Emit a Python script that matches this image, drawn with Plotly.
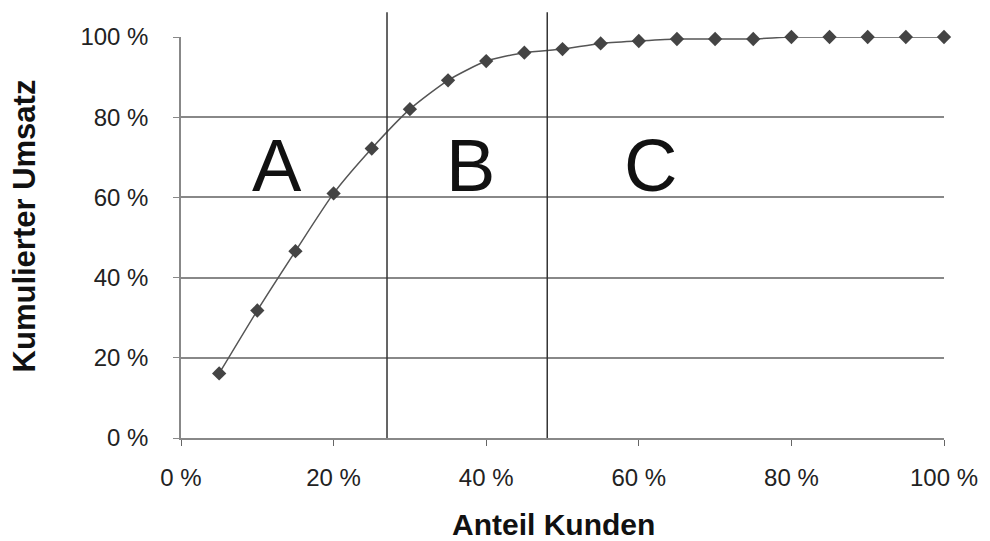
import plotly.graph_objects as go

anteil_kunden = [5, 10, 15, 20, 25, 30, 35, 40, 45, 50, 55, 60, 65, 70, 75, 80, 85, 90, 95, 100]
kum_umsatz = [16.1, 31.8, 46.6, 61.0, 72.2, 82.0, 89.2, 94.0, 96.1, 97.0, 98.4, 99.0, 99.5, 99.5, 99.5, 100, 100, 100, 100, 100]
grenzen = [27, 48]
klassen = ["A", "B", "C"]
klassen_x = [12.6, 37.9, 61.5]
klassen_y = [68, 68, 68]
tick_vals = [0, 20, 40, 60, 80, 100]
tick_text = ["0 %", "20 %", "40 %", "60 %", "80 %", "100 %"]

FONT = "Liberation Sans, Arial, Helvetica, sans-serif"

fig = go.Figure()
fig.add_trace(go.Scatter(
    x=anteil_kunden, y=kum_umsatz, mode="lines+markers",
    line=dict(color="#555555", width=1.5, shape="spline", smoothing=0.6),
    marker=dict(symbol="diamond", size=11, color="#444444"),
    cliponaxis=False, showlegend=False, hoverinfo="skip"))

for g in grenzen:
    fig.add_shape(type="line", xref="x", yref="paper", x0=g, x1=g, y0=0, y1=1.062,
                  line=dict(color="#333333", width=1.5))

for k, kx, ky in zip(klassen, klassen_x, klassen_y):
    fig.add_annotation(x=kx, y=ky, xref="x", yref="y", text=k, showarrow=False,
                       font=dict(family=FONT, size=74, color="#111111"))

fig.add_annotation(x=-0.2045, y=0.53, xref="paper", yref="paper", text="<b>Kumulierter Umsatz</b>",
                   textangle=-90, showarrow=False, xanchor="center", yanchor="middle",
                   font=dict(family=FONT, size=31, color="#111111"))
fig.add_annotation(x=0.488, y=-0.216, xref="paper", yref="paper", text="<b>Anteil Kunden</b>",
                   showarrow=False, xanchor="center", yanchor="middle", borderpad=0,
                   font=dict(family=FONT, size=30, color="#111111"))

fig.update_layout(
    width=990, height=541,
    margin=dict(l=173, r=54, t=29, b=111),
    paper_bgcolor="white", plot_bgcolor="white",
    font=dict(family=FONT, size=24, color="#222222"),
    showlegend=False,
)
fig.update_xaxes(range=[0, 100], tickvals=tick_vals, ticktext=tick_text,
                 showgrid=False, zeroline=False, showline=True, linecolor="#888888", linewidth=1.5,
                 ticks="outside", ticklen=6, tickcolor="#666666", tickwidth=1.2,
                 ticklabelstandoff=11, tickfont=dict(family=FONT, size=24, color="#222222"))
fig.update_yaxes(range=[0, 100], tickvals=tick_vals, ticktext=tick_text,
                 showgrid=True, gridcolor="#888888", gridwidth=1.5, zeroline=False,
                 showline=True, linecolor="#888888", linewidth=1.5,
                 ticks="outside", ticklen=6, tickcolor="#888888", tickwidth=1.2,
                 ticklabelstandoff=20, tickfont=dict(family=FONT, size=24, color="#222222"))

fig.write_html("out.html")
